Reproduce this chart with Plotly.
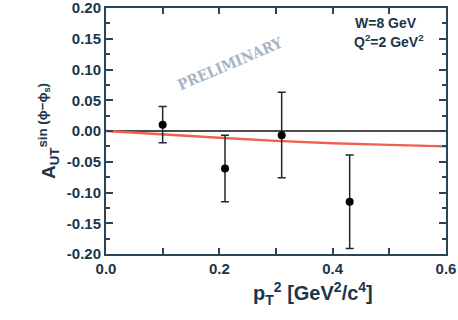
import plotly.graph_objects as go

# data
pt2 = [0.10, 0.21, 0.31, 0.43]
asym = [0.010, -0.061, -0.007, -0.115]
err_up = [0.030, 0.054, 0.070, 0.076]
err_dn = [0.029, 0.054, 0.069, 0.076]

model_x = [0.0, 0.1, 0.2, 0.3, 0.4, 0.5, 0.6]
model_y = [0.0, -0.006, -0.011, -0.016, -0.020, -0.0225, -0.025]

xticks = [0.0, 0.2, 0.4, 0.6]
xticklabels = ["0.0", "0.2", "0.4", "0.6"]
yticks = [0.20, 0.15, 0.10, 0.05, 0.00, -0.05, -0.10, -0.15, -0.20]
yticklabels = ["0.20", "0.15", "0.10", "0.05", "0.00", "-0.05", "-0.10", "-0.15", "-0.20"]

axcol = "#2c4656"
labcol = "#1c3648"
font = "Liberation Sans, Arial, sans-serif"

fig = go.Figure()
fig.add_trace(go.Scatter(x=[0, 0.6], y=[0, 0], mode="lines",
                         line=dict(color="#111111", width=1.5), hoverinfo="skip"))
fig.add_trace(go.Scatter(x=model_x, y=model_y, mode="lines",
                         line=dict(color="#f0604f", width=2.4), hoverinfo="skip"))
fig.add_trace(go.Scatter(x=pt2, y=asym, mode="markers",
                         marker=dict(color="black", size=8),
                         error_y=dict(type="data", array=err_up, arrayminus=err_dn,
                                      color="#1a2a32", thickness=1.5, width=4)))

fig.update_layout(
    width=458, height=320,
    margin=dict(l=106, r=12, t=8, b=66),
    paper_bgcolor="white", plot_bgcolor="white",
    showlegend=False,
    font=dict(family=font, color=labcol),
    xaxis=dict(range=[0, 0.6], tickvals=xticks, ticktext=xticklabels,
               showgrid=False, zeroline=False, showline=True, mirror="ticks",
               linecolor=axcol, linewidth=2, ticks="inside", ticklen=6,
               tickcolor=axcol, tickwidth=1.5, ticklabeloverflow="allow", automargin=False,
               tickfont=dict(size=15, family=font, color=labcol, weight="bold"),
               minor=dict(dtick=0.1, ticks="inside", ticklen=6, tickcolor=axcol, tickwidth=1.5)),
    yaxis=dict(range=[-0.20, 0.20], tickvals=yticks, ticktext=yticklabels,
               showgrid=False, zeroline=False, showline=True, mirror="ticks",
               linecolor=axcol, linewidth=2, ticks="inside", ticklen=7,
               tickcolor=axcol, tickwidth=1.5, ticklabeloverflow="allow", automargin=False,
               tickfont=dict(size=15, family=font, color=labcol, weight="bold"),
               minor=dict(dtick=0.025, ticks="inside", ticklen=4, tickcolor=axcol, tickwidth=1.5),
               title=dict(text="<b>A<sub>UT</sub><sup>sin (ϕ−ϕ<sub>s</sub>)</sup></b>",
                          font=dict(size=19, color=labcol), standoff=6)),
)

# x axis title
fig.add_annotation(xref="paper", yref="paper", x=0.61, y=-0.16,
                   xanchor="center", yanchor="middle",
                   text="<b>p<sub>T</sub><sup>2</sup> [GeV<sup>2</sup>/c<sup>4</sup>]</b>",
                   showarrow=False, font=dict(size=20, color=labcol))
fig.add_annotation(xref="x", yref="y", x=0.494, y=0.176, text="<b>W=8 GeV</b>",
                   showarrow=False, font=dict(size=14, color=labcol))
fig.add_annotation(xref="x", yref="y", x=0.499, y=0.147, text="<b>Q<sup>2</sup>=2 GeV<sup>2</sup></b>",
                   showarrow=False, font=dict(size=14, color=labcol))
fig.add_annotation(xref="x", yref="y", x=0.219, y=0.109, text="<b>PRELIMINARY</b>",
                   textangle=-23, showarrow=False,
                   font=dict(size=15, family="DejaVu Serif Condensed, Liberation Serif, serif",
                             color="#a6b4c2"))

fig.write_html("out.html", config={"displayModeBar": False},
               post_script="document.body.style.margin='0';document.body.style.overflow='hidden';")
